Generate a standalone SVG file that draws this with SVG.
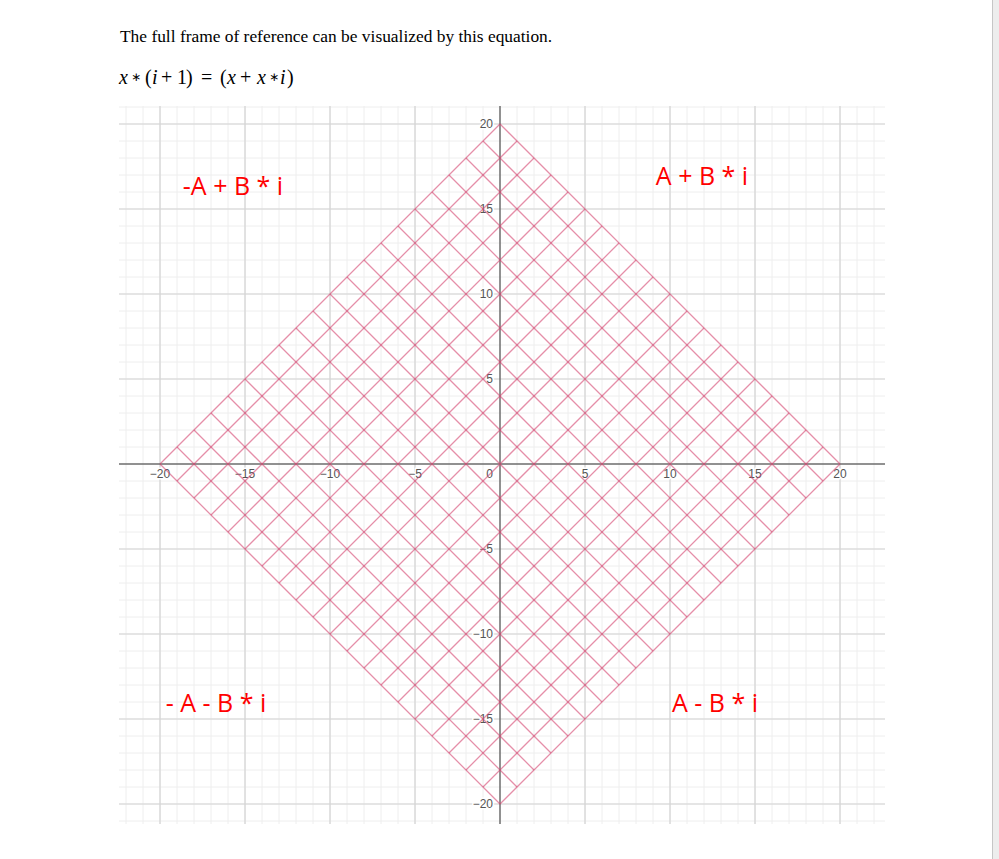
<svg xmlns="http://www.w3.org/2000/svg" width="999" height="859" viewBox="0 0 999 859">
<style>
.minor{stroke:#eeeeee;stroke-width:1;fill:none}
.major{stroke:#d4d4d4;stroke-width:1.2;fill:none}
.axis{stroke:#6e6e6e;stroke-width:1.5;fill:none}
.tick{font-family:"Liberation Sans",Arial,sans-serif;font-size:12px;fill:#555;stroke:#fff;stroke-width:3;paint-order:stroke;stroke-linejoin:round}
.tx{text-anchor:middle}
.ty{text-anchor:end}
.web{stroke:#d4456f;stroke-opacity:0.6;stroke-width:1.3;fill:none}
.quad{font-family:"Open Sans","Liberation Sans",sans-serif;font-size:25px;fill:#ff0000;text-anchor:middle}
.body{font-family:"Liberation Serif","Times New Roman",serif;fill:#000}
.it{font-style:italic}
.ast{font-family:"DejaVu Sans",sans-serif;font-size:12px}
</style>
<rect x="0" y="0" width="999" height="859" fill="#ffffff"/>
<rect x="993" y="0" width="6" height="859" fill="#ededed"/>
<line x1="992.5" y1="0" x2="992.5" y2="859" stroke="#c6c6c6" stroke-width="1"/>

<g id="caption">
<text class="body" x="120" y="42" font-size="17.4">The full frame of reference can be visualized by this equation.</text>
</g>
<g id="equation">
<text class="body" y="84" font-size="20"><tspan class="it" x="119">x</tspan><tspan class="ast" x="131" y="81">∗</tspan><tspan x="145" y="84">(</tspan><tspan class="it" x="152">i</tspan><tspan x="161">+</tspan><tspan x="177">1</tspan><tspan x="186">)</tspan><tspan x="201">=</tspan><tspan x="220">(</tspan><tspan class="it" x="227">x</tspan><tspan x="240">+</tspan><tspan class="it" x="257">x</tspan><tspan class="ast" x="269" y="81">∗</tspan><tspan class="it" x="280" y="84">i</tspan><tspan x="287">)</tspan></text>
</g>

<g id="grid">
<path class="minor" d="M126,106V824M143,106V824M160,106V824M177,106V824M194,106V824M211,106V824M228,106V824M245,106V824M262,106V824M279,106V824M296,106V824M313,106V824M330,106V824M347,106V824M364,106V824M381,106V824M398,106V824M415,106V824M432,106V824M449,106V824M466,106V824M483,106V824M517,106V824M534,106V824M551,106V824M568,106V824M585,106V824M602,106V824M619,106V824M636,106V824M653,106V824M670,106V824M687,106V824M704,106V824M721,106V824M738,106V824M755,106V824M772,106V824M789,106V824M806,106V824M823,106V824M840,106V824M857,106V824M874,106V824"/>
<path class="minor" d="M119,107H885M119,124H885M119,141H885M119,158H885M119,175H885M119,192H885M119,209H885M119,226H885M119,243H885M119,260H885M119,277H885M119,294H885M119,311H885M119,328H885M119,345H885M119,362H885M119,379H885M119,396H885M119,413H885M119,430H885M119,447H885M119,481H885M119,498H885M119,515H885M119,532H885M119,549H885M119,566H885M119,583H885M119,600H885M119,617H885M119,634H885M119,651H885M119,668H885M119,685H885M119,702H885M119,719H885M119,736H885M119,753H885M119,770H885M119,787H885M119,804H885M119,821H885"/>
<path class="major" d="M160,106V824M245,106V824M330,106V824M415,106V824M585,106V824M670,106V824M755,106V824M840,106V824M119,124H885M119,209H885M119,294H885M119,379H885M119,549H885M119,634H885M119,719H885M119,804H885"/>
<path class="axis" d="M119,464H885M500,106V824"/>
</g>

<g id="ticks">
<text class="tick tx" x="160" y="478">−20</text>
<text class="tick tx" x="245" y="478">−15</text>
<text class="tick tx" x="330" y="478">−10</text>
<text class="tick tx" x="415" y="478">−5</text>
<text class="tick ty" x="493" y="478">0</text>
<text class="tick tx" x="585" y="478">5</text>
<text class="tick tx" x="670" y="478">10</text>
<text class="tick tx" x="755" y="478">15</text>
<text class="tick tx" x="840" y="478">20</text>
<text class="tick ty" x="493" y="128">20</text>
<text class="tick ty" x="493" y="213">15</text>
<text class="tick ty" x="493" y="298">10</text>
<text class="tick ty" x="493" y="383">5</text>
<text class="tick ty" x="493" y="553">−5</text>
<text class="tick ty" x="493" y="638">−10</text>
<text class="tick ty" x="493" y="723">−15</text>
<text class="tick ty" x="493" y="808">−20</text>
</g>

<g id="connectors">
<path class="web" d="M160,464l340,340M177,447l340,340M194,430l340,340M211,413l340,340M228,396l340,340M245,379l340,340M262,362l340,340M279,345l340,340M296,328l340,340M313,311l340,340M330,294l340,340M347,277l340,340M364,260l340,340M381,243l340,340M398,226l340,340M415,209l340,340M432,192l340,340M449,175l340,340M466,158l340,340M483,141l340,340M500,124l340,340"/>
<path class="web" d="M160,464l340,-340M177,481l340,-340M194,498l340,-340M211,515l340,-340M228,532l340,-340M245,549l340,-340M262,566l340,-340M279,583l340,-340M296,600l340,-340M313,617l340,-340M330,634l340,-340M347,651l340,-340M364,668l340,-340M381,685l340,-340M398,702l340,-340M415,719l340,-340M432,736l340,-340M449,753l340,-340M466,770l340,-340M483,787l340,-340M500,804l340,-340"/>
</g>

<g id="q2"><text class="quad" x="233" y="195">-A + B * i</text></g>
<g id="q1"><text class="quad" x="702" y="185">A + B * i</text></g>
<g id="q3"><text class="quad" x="216" y="712">- A - B * i</text></g>
<g id="q4"><text class="quad" x="715" y="712">A - B * i</text></g>
</svg>
